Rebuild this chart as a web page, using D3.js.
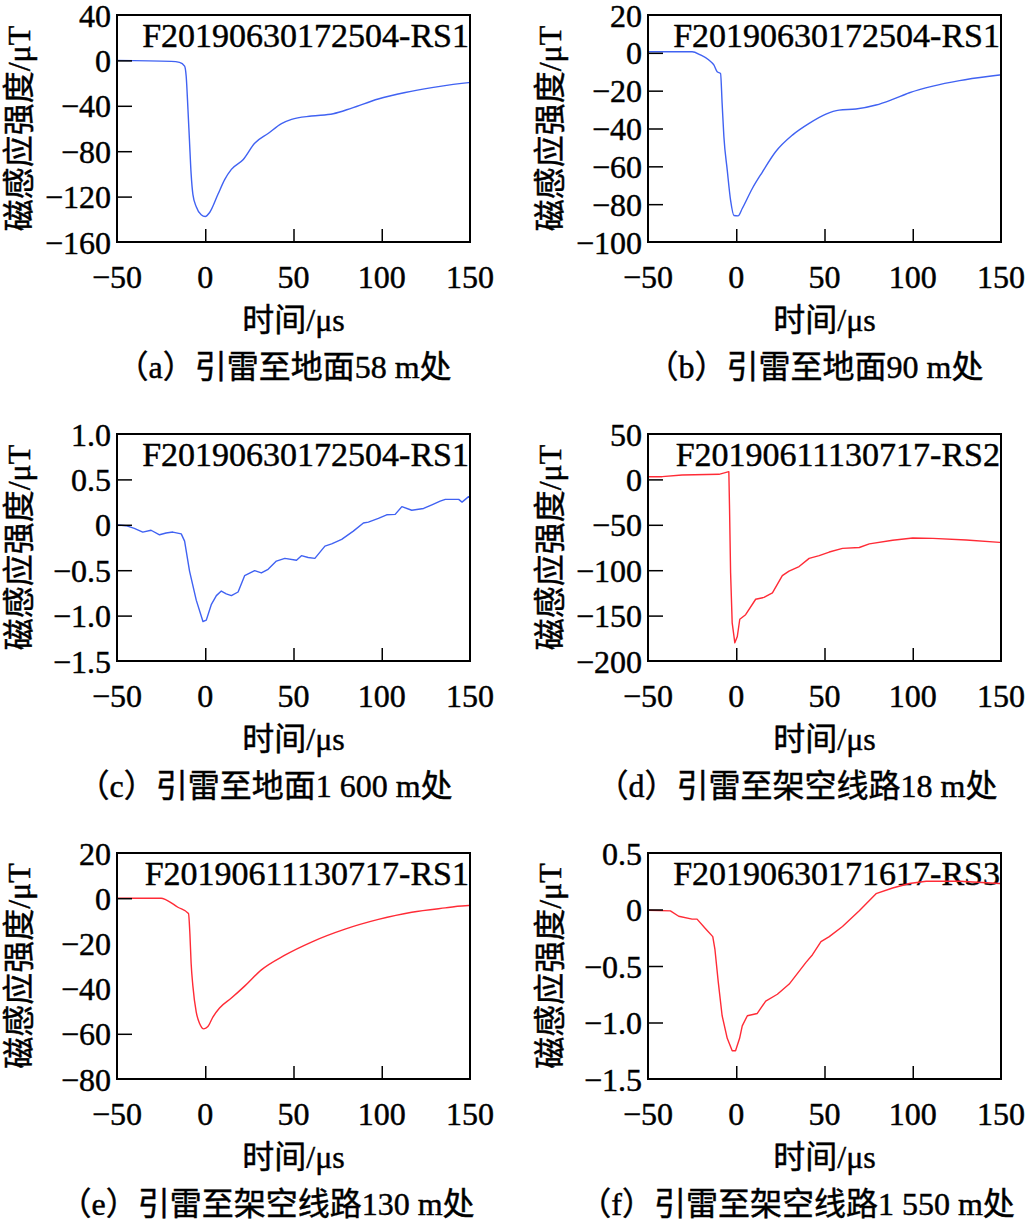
<!DOCTYPE html>
<html><head><meta charset="utf-8">
<script src="https://cdn.jsdelivr.net/npm/d3@7"></script>
<style>
html,body{margin:0;padding:0;background:#fff;}
svg text{font-family:"Liberation Serif","Times New Roman","Noto Sans CJK SC",serif;fill:#000;stroke:#000;stroke-width:0.45px;}
</style></head>
<body>
<svg id="chart" width="1031" height="1221"></svg>
<script>
// ---------- data ----------
const xTicks = [-50, 0, 50, 100, 150];

const timeA = [-50,-19.3,-14.6,-11.7,-10.8,-9.8,-8.9,-8,-7,-5.1,-2.3,0,2.5,7.2,11,14.8,21.4,28,35.6,43.2,48.9,60.2,72.5,83,98,113.3,128.4,149.2,150];
const fieldA = [0,-0.9,-1.7,-5,-14,-43,-72,-100,-118,-129,-136,-137.5,-134,-118,-105,-96,-87.5,-73,-64.4,-55.7,-52,-49,-47,-42,-34,-28.3,-24,-19.6,-19.5];

const timeB = [-50,-25,-20.3,-15.5,-12.7,-10.8,-8.9,-8,-7,-5.1,-3.2,-1.3,1,3.4,9.1,14.8,22.3,31.8,41.3,50.8,58.3,67.8,79.2,88.6,98.1,111.4,126.5,149.2,150];
const fieldB = [0.6,0.6,-1.1,-3.8,-6.4,-10,-10.9,-26.7,-44.4,-62,-78,-86,-86.2,-82.3,-71.7,-63,-52.3,-43.5,-37.3,-32.4,-30.3,-29.7,-27.6,-24.6,-21.1,-17.6,-14.7,-11.7,-11.6];

const timeC = [-50,-44.9,-40.2,-35.4,-30.7,-25.9,-22.2,-18.4,-13.6,-11.7,-8.9,-5.1,-1.3,0.6,3.4,6.3,9.1,11.9,14.8,18.6,22.3,28,31.8,35.6,40.3,45.1,51.7,54.5,58.3,62.1,67.8,71.6,77.3,83.9,89.6,92.4,98.1,102.8,107.6,111.4,117,123.7,128.4,133.1,136,139.8,143.6,145.5,149.2,150];
const fieldC = [0,-0.01,-0.04,-0.08,-0.06,-0.11,-0.09,-0.08,-0.1,-0.18,-0.51,-0.83,-1.065,-1.05,-0.88,-0.78,-0.73,-0.76,-0.78,-0.74,-0.56,-0.505,-0.53,-0.49,-0.4,-0.37,-0.39,-0.34,-0.36,-0.37,-0.235,-0.21,-0.16,-0.07,0.02,0.03,0.07,0.11,0.115,0.2,0.16,0.18,0.22,0.26,0.28,0.28,0.28,0.25,0.31,0.3];

const timeD = [-50,-42,-30.7,-9.8,-4.2,-3.8,-3.2,-2.3,-0.8,0.6,2,5.3,11,15.7,20.5,26.1,29.9,35.6,41.3,47,52.7,60.2,69.7,75.4,88.6,100,111.4,130.3,149.2,150];
const fieldD = [3,3,4.8,5.6,8.5,-32,-103,-158,-180,-173,-154,-149,-132,-130,-125,-106,-101,-96,-87,-84,-80,-76,-75,-71,-67,-64.5,-65,-66.7,-69.3,-69.4];

const timeE = [-50,-25,-22.2,-15.5,-9.5,-8.7,-8,-7,-5.1,-3.2,-0.8,1.5,4.4,8.1,14.8,22.3,31.8,45.1,60.2,79.2,98.1,117,136,149.2,150];
const fieldE = [0,0,-0.7,-4,-6.8,-15.8,-28.8,-38.9,-50.4,-55.4,-57.8,-56.8,-52.5,-48.6,-44.2,-38.9,-31.7,-25.2,-19.4,-13.7,-9.4,-6.2,-4.3,-3.2,-3.2];

const timeF = [-50,-37.3,-32.6,-25,-22.2,-17.4,-13.3,-12.1,-10.2,-8,-5.1,-2.3,-0.4,1.9,3.4,6.3,11.9,16.7,23.3,30,39.4,43.2,48,52.7,60.2,69.7,79.2,88.6,98.1,107.6,126.5,149.2,150];
const fieldF = [-0.006,-0.012,-0.06,-0.085,-0.085,-0.17,-0.24,-0.35,-0.64,-0.94,-1.14,-1.25,-1.25,-1.14,-1.03,-0.94,-0.92,-0.81,-0.75,-0.66,-0.47,-0.4,-0.285,-0.24,-0.15,-0.012,0.14,0.19,0.23,0.25,0.25,0.23,0.228];

const yTickLabelsA = [40,0,-40,-80,-120,-160];
const yTickLabelsB = [20,0,-20,-40,-60,-80,-100];
const yTickLabelsC = [1.0,0.5,0,-0.5,-1.0,-1.5];
const yTickLabelsD = [50,0,-50,-100,-150,-200];
const yTickLabelsE = [20,0,-20,-40,-60,-80];
const yTickLabelsF = [0.5,0,-0.5,-1.0,-1.5];

const yTickMarksA = [0,-40,-80,-120];
const yTickMarksB = [0,-20,-40,-60,-80];
const yTickMarksC = [0.5,0,-0.5,-1.0];
const yTickMarksD = [0,-50,-100,-150];
const yTickMarksE = [0,-60];
const yTickMarksF = [0,-0.5,-1.0];

const codes = ["F20190630172504-RS1","F20190630172504-RS1","F20190630172504-RS1","F20190611130717-RS2","F20190611130717-RS1","F20190630171617-RS3"];
const captions = ["（a）引雷至地面58 m处","（b）引雷至地面90 m处","（c）引雷至地面1 600 m处","（d）引雷至架空线路18 m处","（e）引雷至架空线路130 m处","（f）引雷至架空线路1 550 m处"];
const yTitle = "磁感应强度/μT";
const xTitle = "时间/μs";
const blue = "#4062f2", red = "#ff2b36";

// ---------- layout ----------
const panels = [
  {t:timeA,v:fieldA,labels:yTickLabelsA,marks:yTickMarksA,dec:0,color:blue,smooth:true,x0:117,x1:470,y0:15,y1:242,capX:284},
  {t:timeB,v:fieldB,labels:yTickLabelsB,marks:yTickMarksB,dec:0,color:blue,smooth:true,x0:648,x1:1001,y0:15,y1:242,capX:815},
  {t:timeC,v:fieldC,labels:yTickLabelsC,marks:yTickMarksC,dec:1,color:blue,smooth:false,x0:117,x1:470,y0:434,y1:661,capX:265},
  {t:timeD,v:fieldD,labels:yTickLabelsD,marks:yTickMarksD,dec:0,color:red,smooth:false,x0:648,x1:1001,y0:434,y1:661,capX:797},
  {t:timeE,v:fieldE,labels:yTickLabelsE,marks:yTickMarksE,dec:0,color:red,smooth:true,x0:117,x1:470,y0:853,y1:1079,capX:267},
  {t:timeF,v:fieldF,labels:yTickLabelsF,marks:yTickMarksF,dec:1,color:red,smooth:false,x0:648,x1:1001,y0:853,y1:1079,capX:797}
];

const svg = d3.select("#chart");
const fmtNum = (d, dec) => {
  if (d === 0) return "0";
  const s = Math.abs(d).toFixed(dec);
  return (d < 0 ? "\u2212" : "") + s;
};

panels.forEach((p, i) => {
  const x = d3.scaleLinear().domain([-50,150]).range([p.x0,p.x1]);
  const ext = d3.extent(p.labels);
  const y = d3.scaleLinear().domain([ext[0], ext[1]]).range([p.y1,p.y0]);
  const g = svg.append("g");

  g.append("text").attr("x", p.x1 - 1).attr("y", p.y0 + 32)
    .attr("text-anchor","end").attr("font-size", 34).text(codes[i]);

  const data = p.t.map((t, k) => [t, p.v[k]]);
  g.append("path").datum(data)
    .attr("fill","none").attr("stroke",p.color).attr("stroke-width",1.4)
    .attr("stroke-linejoin","round")
    .attr("d", d3.line().x(d=>x(d[0])).y(d=>y(d[1]))
      .curve(p.smooth ? d3.curveMonotoneX : d3.curveLinear));

  const yAx = d3.axisRight(y).tickValues(p.marks).tickSize(15).tickFormat("");
  const ya = g.append("g").attr("transform",`translate(${p.x0},0)`).call(yAx);
  ya.select(".domain").remove();
  ya.selectAll("line").attr("stroke","#000").attr("stroke-width",1.5);

  const xAx = d3.axisTop(x).tickValues([0,50,100]).tickSize(13).tickFormat("");
  const xa = g.append("g").attr("transform",`translate(0,${p.y1})`).call(xAx);
  xa.select(".domain").remove();
  xa.selectAll("line").attr("stroke","#000").attr("stroke-width",1.5);

  g.append("rect").attr("x",p.x0).attr("y",p.y0)
    .attr("width",p.x1-p.x0).attr("height",p.y1-p.y0)
    .attr("fill","none").attr("stroke","#000").attr("stroke-width",2);

  g.selectAll(".yl").data(p.labels).enter().append("text")
    .attr("x", p.x0 - 6).attr("y", d => y(d)).attr("dy","0.36em")
    .attr("text-anchor","end").attr("font-size",32)
    .text(d => fmtNum(d, p.dec));

  g.selectAll(".xl").data(xTicks).enter().append("text")
    .attr("x", d => x(d)).attr("y", p.y1 + 46)
    .attr("text-anchor","middle").attr("font-size",32)
    .text(d => fmtNum(d, 0));

  g.append("text").attr("transform",`translate(${p.x0 - 98},${(p.y0+p.y1)/2}) rotate(-90)`)
    .attr("text-anchor","middle").attr("dominant-baseline","central")
    .attr("font-size",32).text(yTitle);
  g.append("text").attr("x",(p.x0+p.x1)/2).attr("y",p.y1 + 78)
    .attr("text-anchor","middle").attr("dominant-baseline","central")
    .attr("font-size",32).text(xTitle);

  g.append("text").attr("x",p.capX).attr("y",p.y1 + 125)
    .attr("text-anchor","middle").attr("dominant-baseline","central")
    .attr("font-size",32).text(captions[i]);
});
</script>
</body></html>
